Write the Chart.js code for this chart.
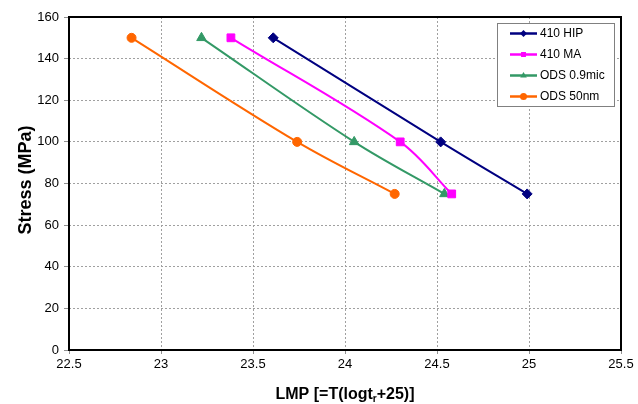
<!DOCTYPE html>
<html>
<head>
<meta charset="utf-8">
<script src="https://cdn.jsdelivr.net/npm/chart.js@4/dist/chart.umd.min.js"></script>
<style>
html,body{margin:0;padding:0;background:#fff;}
canvas{display:block;}
</style>
</head>
<body>
<canvas id="c" width="638" height="404"></canvas>
<script>
// ---- Data ----
const seriesNames = ['410 HIP', '410 MA', 'ODS 0.9mic', 'ODS 50nm'];
const stress = [150, 100, 75];
const lmpHIP = [23.61, 24.52, 24.99];
const lmpMA = [23.38, 24.30, 24.58];
const lmpODS09 = [23.22, 24.05, 24.54];
const lmpODS50 = [22.84, 23.74, 24.27];
const xTickValues = [22.5, 23, 23.5, 24, 24.5, 25, 25.5];
const yTickValues = [0, 20, 40, 60, 80, 100, 120, 140, 160];
const yTitle = 'Stress (MPa)';
const xTitleParts = ['LMP [=T(logt', 'r', '+25)]'];

// ---- Styles ----
const colors = ['#000080', '#FF00FF', '#339966', '#FF6600'];
const pointStyles = ['rectRot', 'rect', 'triangle', 'circle'];
const pointRadii = [5, 5.5, 5.5, 4.5];
const lmpSeries = [lmpHIP, lmpMA, lmpODS09, lmpODS50];

const datasets = seriesNames.map((name, i) => ({
  label: name,
  data: lmpSeries[i].map((x, j) => ({x: x, y: stress[j]})),
  borderColor: colors[i],
  backgroundColor: colors[i],
  borderWidth: 2,
  pointStyle: pointStyles[i],
  pointRadius: pointRadii[i],
  pointBorderWidth: 1,
  pointBackgroundColor: colors[i],
  pointBorderColor: colors[i],
  tension: 0.35,
  showLine: true,
  fill: false
}));

const FONT = '"Liberation Sans", Arial, sans-serif';

function drawMarker(ctx, style, r, x, y) {
  ctx.beginPath();
  if (style === 'rectRot') {
    ctx.moveTo(x, y - r); ctx.lineTo(x + r, y); ctx.lineTo(x, y + r); ctx.lineTo(x - r, y);
    ctx.closePath();
  } else if (style === 'rect') {
    const s = r * Math.SQRT1_2;
    ctx.rect(x - s, y - s, 2 * s, 2 * s);
  } else if (style === 'triangle') {
    ctx.moveTo(x, y - r); ctx.lineTo(x + r * 0.95, y + r * 0.6); ctx.lineTo(x - r * 0.95, y + r * 0.6);
    ctx.closePath();
  } else {
    ctx.arc(x, y, r, 0, Math.PI * 2);
  }
  ctx.fill();
}

const decorPlugin = {
  id: 'decor',
  afterDraw(chart) {
    const ctx = chart.ctx;
    const a = chart.chartArea;
    ctx.save();
    // plot area border
    ctx.strokeStyle = '#000';
    ctx.lineWidth = 2;
    ctx.strokeRect(a.left, a.top, a.right - a.left, a.bottom - a.top);

    // legend box
    const lx = 497, ly = 23, lw = 117, lh = 83;
    ctx.fillStyle = '#fff';
    ctx.fillRect(lx, ly, lw, lh);
    ctx.strokeStyle = '#808080';
    ctx.lineWidth = 1;
    ctx.strokeRect(lx + 0.5, ly + 0.5, lw, lh);
    ctx.font = '12px ' + FONT;
    ctx.textBaseline = 'middle';
    ctx.textAlign = 'left';
    chart.data.datasets.forEach((ds, i) => {
      const y = 33.5 + i * 21;
      ctx.strokeStyle = ds.borderColor;
      ctx.lineWidth = 2.5;
      ctx.beginPath();
      ctx.moveTo(510, y); ctx.lineTo(537, y);
      ctx.stroke();
      ctx.fillStyle = ds.borderColor;
      drawMarker(ctx, ds.pointStyle, 3.5, 523.5, y);
      ctx.fillStyle = '#000';
      ctx.fillText(ds.label, 540, y + 0.5);
    });

    // y axis title
    ctx.fillStyle = '#000';
    ctx.font = 'bold 18px ' + FONT;
    ctx.textAlign = 'center';
    ctx.textBaseline = 'middle';
    ctx.save();
    ctx.translate(26, 180);
    ctx.rotate(-Math.PI / 2);
    ctx.fillText(yTitle, 0, 0);
    ctx.restore();

    // x axis title with subscript
    const mainFont = 'bold 16px ' + FONT;
    const subFont = 'bold 10px ' + FONT;
    ctx.font = mainFont;
    const w0 = ctx.measureText(xTitleParts[0]).width;
    const w2 = ctx.measureText(xTitleParts[2]).width;
    ctx.font = subFont;
    const w1 = ctx.measureText(xTitleParts[1]).width;
    const total = w0 + w1 + w2;
    let x = (a.left + a.right) / 2 - total / 2;
    const by = 399;
    ctx.textAlign = 'left';
    ctx.textBaseline = 'alphabetic';
    ctx.font = mainFont;
    ctx.fillText(xTitleParts[0], x, by); x += w0;
    ctx.font = subFont;
    ctx.fillText(xTitleParts[1], x, by + 3); x += w1;
    ctx.font = mainFont;
    ctx.fillText(xTitleParts[2], x, by);
    ctx.restore();
  }
};

new Chart(document.getElementById('c'), {
  type: 'scatter',
  data: { datasets: datasets },
  options: {
    responsive: false,
    animation: false,
    devicePixelRatio: 1,
    layout: { padding: { top: 17, right: 17, left: 0, bottom: 0 } },
    plugins: { legend: { display: false }, tooltip: { enabled: false } },
    scales: {
      x: {
        type: 'linear',
        min: 22.5, max: 25.5,
        afterFit: s => { s.height = 54; },
        afterBuildTicks: s => { s.ticks = xTickValues.map(v => ({value: v})); },
        ticks: {
          font: { family: FONT, size: 13 },
          color: '#000',
          padding: 3,
          maxRotation: 0,
          callback: v => String(v)
        },
        grid: { color: '#a0a0a0', lineWidth: 1, tickLength: 4, tickColor: '#909090' },
        border: { display: false, dash: [2, 2] },
        title: { display: false }
      },
      y: {
        type: 'linear',
        min: 0, max: 160,
        afterFit: s => { s.width = 69; },
        afterBuildTicks: s => { s.ticks = yTickValues.map(v => ({value: v})); },
        ticks: {
          font: { family: FONT, size: 13 },
          color: '#000',
          padding: 5,
          callback: v => String(v)
        },
        grid: { color: '#a0a0a0', lineWidth: 1, tickLength: 5, tickColor: '#909090' },
        border: { display: false, dash: [2, 2] },
        title: { display: false }
      }
    }
  },
  plugins: [decorPlugin]
});
</script>
</body>
</html>
